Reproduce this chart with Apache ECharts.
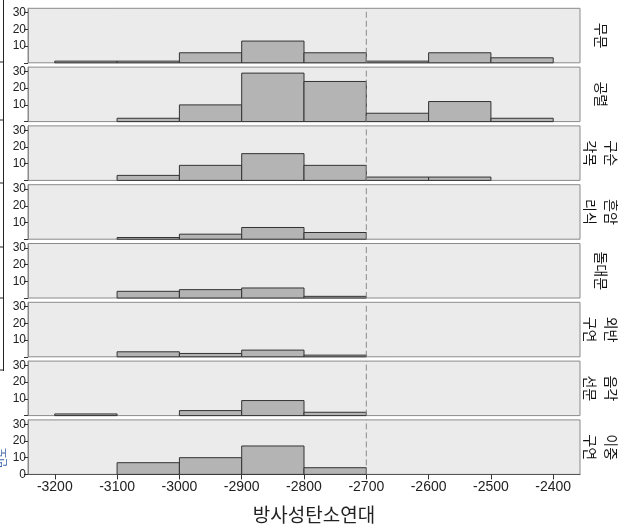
<!DOCTYPE html>
<html>
<head>
<meta charset="utf-8">
<script src="https://cdn.jsdelivr.net/npm/echarts@6/dist/echarts.min.js"></script>
<style>
html,body{margin:0;padding:0;background:#fff;}
#c{width:629px;height:530px;}
</style>
</head>
<body>
<div id="c"></div>
<script>
// ---- data ----
const binStarts = [-3200, -3100, -3000, -2900, -2800, -2700, -2600, -2500];
const binWidth = 100;
const groups = ['무문', '공렬', '구순\n각목', '흔암\n리식', '돌대문', '외반\n구연', '음각\n선문', '이중\n구연'];
const countsMumun    = [1, 1, 6, 13, 6, 1, 6, 3];
const countsGongryeol= [0, 2, 10, 29, 24, 5, 12, 2];
const countsGusun    = [0, 3, 9, 16, 9, 2, 2, 0];
const countsHeunam   = [0, 1, 3, 7, 4, 0, 0, 0];
const countsDoldae   = [0, 4, 5, 6, 1, 0, 0, 0];
const countsOeban    = [0, 3, 2, 4, 1, 0, 0, 0];
const countsEumgak   = [1, 0, 3, 9, 2, 0, 0, 0];
const countsIjung    = [0, 7, 10, 17, 4, 0, 0, 0];
const allCounts = [countsMumun, countsGongryeol, countsGusun, countsHeunam, countsDoldae, countsOeban, countsEumgak, countsIjung];
const xTicks = [-3200, -3100, -3000, -2900, -2800, -2700, -2600, -2500, -2400];
const yTicks = [0, 10, 20, 30];
const refLine = -2700;
const xTitle = '방사성탄소연대';

// ---- layout ----
const N = groups.length;
const panelTop0 = 8.3, panelStep = 58.8, panelH = 54.5;
const gridLeft = 28, gridRight = 49;
const xMin = -3243, xMax = -2357, yMax = 32.6;
const latin = '"Liberation Sans", Arial, sans-serif';
const kor = '"Noto Sans CJK KR", sans-serif';

const grids = [], xAxes = [], yAxes = [], series = [], graphics = [];
for (let i = 0; i < N; i++) {
  const top = panelTop0 + panelStep * i;
  const last = i === N - 1;
  grids.push({left: gridLeft, right: gridRight, top: top, height: panelH,
    show: true, backgroundColor: '#ebebeb', borderColor: '#8a8a8a', borderWidth: 1});
  xAxes.push({type: 'value', gridIndex: i, min: xMin, max: xMax,
    axisLine: {show: last, onZero: false, lineStyle: {color: '#555'}},
    splitLine: {show: false},
    axisTick: {show: last, length: 5, customValues: xTicks, lineStyle: {color: '#333'}},
    axisLabel: {show: last, customValues: xTicks, fontSize: 14, color: '#222', fontFamily: latin, margin: 6,
      formatter: v => String(v)}
  });
  yAxes.push({type: 'value', gridIndex: i, min: 0, max: yMax,
    axisLine: {show: true, lineStyle: {color: '#8a8a8a'}},
    splitLine: {show: false},
    axisTick: {show: true, length: 4, customValues: yTicks, lineStyle: {color: '#333'}},
    axisLabel: {show: true, customValues: last ? yTicks : yTicks.slice(1), fontSize: 12, color: '#222', fontFamily: latin, margin: 2,
      formatter: v => String(v)}
  });
  const data = [];
  allCounts[i].forEach((c, j) => { if (c > 0) data.push([binStarts[j], binStarts[j] + binWidth, c]); });
  series.push({type: 'custom', xAxisIndex: i, yAxisIndex: i, coordinateSystem: 'cartesian2d',
    encode: {x: [0, 1], y: 2}, data: data, silent: true,
    renderItem: function (params, api) {
      const p0 = api.coord([api.value(0), 0]);
      const p1 = api.coord([api.value(1), api.value(2)]);
      return {type: 'rect',
        shape: {x: p0[0], y: p1[1], width: p1[0] - p0[0], height: p0[1] - p1[1]},
        style: {fill: '#b4b4b4', stroke: '#333', lineWidth: 1}};
    }
  });
  series.push({type: 'line', xAxisIndex: i, yAxisIndex: i, data: [[refLine, 0], [refLine, yMax]],
    symbol: 'none', silent: true, z: 5,
    lineStyle: {color: '#8a8a8a', width: 1, type: [6, 3]}});
  graphics.push({type: 'text', x: 601, y: top + panelH / 2, rotation: -Math.PI / 2,
    style: {text: groups[i], font: '14px ' + kor, fill: '#111', align: 'center', verticalAlign: 'middle', lineHeight: 21}});
}
graphics.push({type: 'text', x: 314, y: 515,
  style: {text: xTitle, font: '19px ' + kor, fill: '#222', align: 'center', verticalAlign: 'middle'}});
// left-edge fragment of neighbouring figure
graphics.push({type: 'line', shape: {x1: 3.5, y1: 0, x2: 3.5, y2: 371}, style: {stroke: '#222', lineWidth: 1}});
[62, 120, 183, 247, 298, 370].forEach(y => graphics.push({type: 'line', shape: {x1: 0, y1: y, x2: 4, y2: y}, style: {stroke: '#222', lineWidth: 1}}));
graphics.push({type: 'text', x: 2, y: 458, rotation: Math.PI / 2,
  style: {text: '빈도', font: '11px ' + kor, fill: '#3b62a6', align: 'center', verticalAlign: 'middle'}});

const chart = echarts.init(document.getElementById('c'), null, {renderer: 'canvas'});
chart.setOption({animation: false, grid: grids, xAxis: xAxes, yAxis: yAxes, series: series, graphic: graphics});
</script>
</body>
</html>
